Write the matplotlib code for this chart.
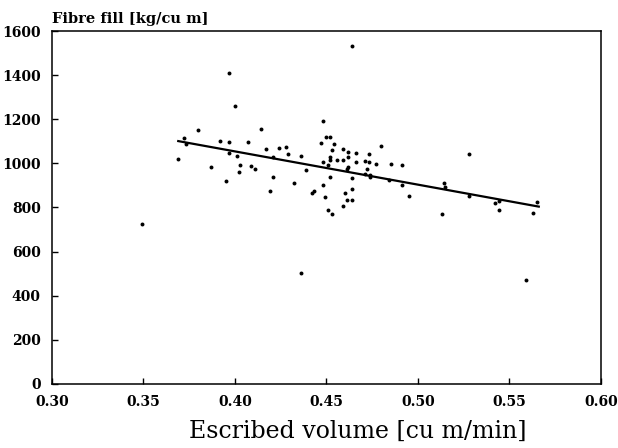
import matplotlib
matplotlib.use('Agg')
import matplotlib.pyplot as plt

# scatter of fibre fill against escribed volume
vol = [0.349, 0.400, 0.397, 0.372, 0.373, 0.369, 0.392, 0.397, 0.407, 0.380,
       0.414, 0.387, 0.397, 0.401, 0.403, 0.402, 0.395, 0.409, 0.411, 0.417,
       0.424, 0.428, 0.429, 0.421, 0.421, 0.419, 0.432, 0.436, 0.448, 0.450,
       0.452, 0.447, 0.454, 0.436, 0.439, 0.453, 0.459, 0.462, 0.466, 0.473,
       0.480, 0.452, 0.452, 0.456, 0.459, 0.462, 0.466, 0.471, 0.473, 0.477,
       0.485, 0.491, 0.448, 0.451, 0.462, 0.461, 0.472, 0.471, 0.474, 0.474,
       0.452, 0.464, 0.484, 0.491, 0.495, 0.448, 0.443, 0.442, 0.464, 0.460,
       0.449, 0.461, 0.464, 0.459, 0.451, 0.453, 0.464, 0.528, 0.514, 0.515,
       0.528, 0.513, 0.542, 0.544, 0.544, 0.565, 0.563, 0.559]
fill = [725, 1262, 1410, 1115, 1086, 1019, 1103, 1096, 1097, 1150,
        1155, 984, 1049, 1034, 993, 962, 922, 986, 976, 1065,
        1070, 1076, 1043, 1030, 937, 876, 911, 505, 1194, 1121,
        1118, 1094, 1086, 1034, 970, 1061, 1064, 1050, 1049, 1043,
        1077, 1028, 1015, 1015, 1015, 1028, 1005, 1011, 1005, 996,
        996, 993, 1006, 994, 985, 975, 973, 952, 946, 937,
        940, 934, 925, 901, 851, 902, 876, 864, 884, 864,
        849, 836, 833, 807, 787, 769, 1532, 1043, 910, 894,
        851, 771, 819, 831, 789, 825, 774, 470]

# regression line end points
fit_x = [0.369, 0.566]
fit_y = [1101, 804]

x_ticks = [0.30, 0.35, 0.40, 0.45, 0.50, 0.55, 0.60]
y_ticks = [0, 200, 400, 600, 800, 1000, 1200, 1400, 1600]

plt.rcParams['font.family'] = ['DejaVu Serif']

fig = plt.figure(figsize=(6.18, 4.48), dpi=100)
ax = fig.add_axes([0.0841, 0.1429, 0.8884, 0.7879])

ax.scatter(vol, fill, s=8, color='black', linewidths=0, zorder=3)
ax.plot(fit_x, fit_y, color='black', linewidth=1.6, zorder=2)

ax.set_xlim(0.30, 0.60)
ax.set_ylim(0, 1600)
ax.set_xticks(x_ticks)
ax.set_xticklabels([f'{t:.2f}' for t in x_ticks], fontweight='bold', fontsize=10)
ax.set_yticks(y_ticks)
ax.set_yticklabels([str(t) for t in y_ticks], fontweight='bold', fontsize=10)
ax.tick_params(direction='in', length=4, width=1, pad=8)

for s in ax.spines.values():
    s.set_linewidth(1.1)

# x label sits right of centre in the original
fig.text(0.579, 0.022, 'Escribed volume [cu m/min]', fontsize=17,
         ha='center', va='baseline')
ax.text(0.0, 1.015, 'Fibre fill [kg/cu m]', transform=ax.transAxes,
        fontsize=10.5, fontweight='bold', ha='left', va='bottom')

fig.savefig('out.png', dpi=100)
